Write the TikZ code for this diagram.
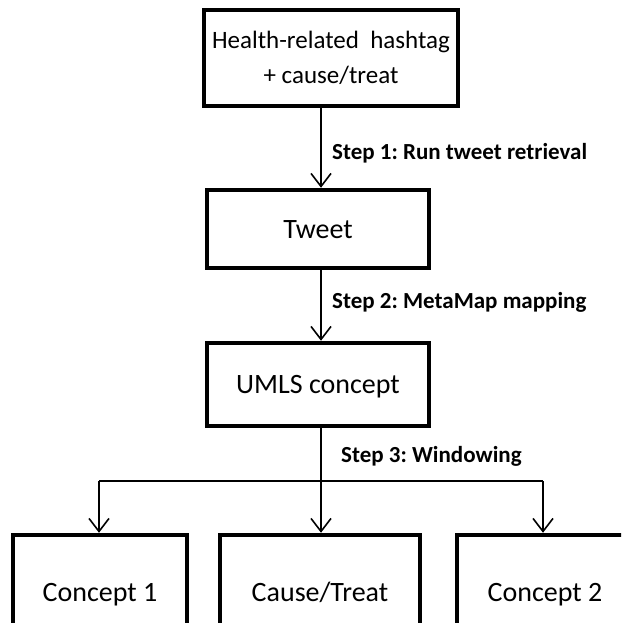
\documentclass[tikz,border=0pt]{standalone}
\usepackage{fontspec}
\setmainfont{Carlito}
\usetikzlibrary{arrows.meta}
\frenchspacing
\begin{document}
\begin{tikzpicture}[x=1pt,y=-1pt,
  boxnode/.style={draw=black,line width=4.5pt,fill=white,inner sep=0pt,align=center,font=\fontsize{28}{35}\selectfont,text height=22pt,text depth=4pt},
  topbox/.style={draw=black,line width=4.5pt,fill=white,inner sep=0pt,align=center,font=\fontsize{25}{35}\selectfont},
  steplabel/.style={anchor=west,inner sep=0pt,font=\bfseries\fontsize{23}{26}\selectfont},
  conn/.style={line width=1.6pt,-{Straight Barb[length=13pt,width=20pt,line width=1.6pt]}},
  plain/.style={line width=1.6pt}]
\useasboundingbox (0,0) rectangle (621,623);
\clip (0,0) rectangle (621,623);
\node[topbox,minimum width=254pt,minimum height=96pt] (top) at (331,58) {Health-related\ \ hashtag\\+ cause/treat};
\node[boxnode,minimum width=222pt,minimum height=78pt] (tweet) at (318,229) {Tweet};
\node[boxnode,minimum width=222pt,minimum height=83pt] (umls) at (318,384.5) {UMLS concept};
\node[boxnode,minimum width=174pt,minimum height=114pt] (c1) at (100,592) {Concept 1};
\node[boxnode,minimum width=200pt,minimum height=114pt] (ct) at (320,592) {Cause/Treat};
\node[boxnode,minimum width=176pt,minimum height=114pt] (c2) at (545,592) {Concept 2};
\coordinate (col) at (321,0);
\coordinate (busl) at (99,481);
\coordinate (busr) at (543,481);
\draw[conn] (top.south -| col) -- (tweet.north -| col);
\draw[conn] (tweet.south -| col) -- (umls.north -| col);
\draw[conn] (umls.south -| col) -- (ct.north -| col);
\draw[plain] (busl) -- (busr);
\draw[conn] (busl) -- (c1.north -| busl);
\draw[conn] (busr) -- (c2.north -| busr);
\node[steplabel] (s1) at (332,153) {Step 1: Run tweet retrieval};
\node[steplabel] (s2) at (332,302) {Step 2: MetaMap mapping};
\node[steplabel] (s3) at (341,456) {Step 3: Windowing};
\end{tikzpicture}
\end{document}
